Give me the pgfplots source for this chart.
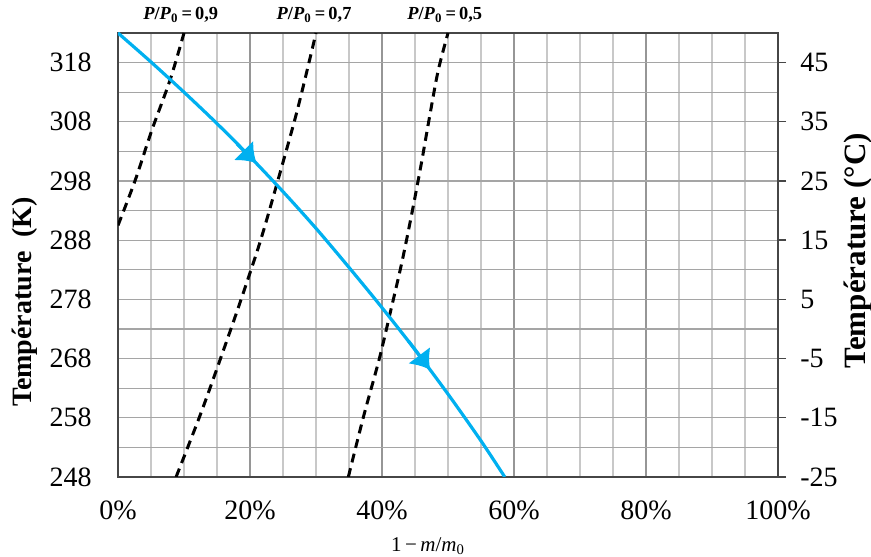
\documentclass[border=0pt]{standalone}
\usepackage{pgfplots}
\pgfplotsset{compat=1.18}
\usepackage{fontspec}
\setmainfont{Liberation Serif}
\usetikzlibrary{arrows.meta}
\definecolor{cblue}{RGB}{0,176,240}
\definecolor{gmaj}{RGB}{150,150,150}
\definecolor{gmin}{RGB}{200,200,200}
\definecolor{gh}{RGB}{165,165,165}
\definecolor{axcol}{RGB}{70,70,70}
\begin{document}
\begin{tikzpicture}
\begin{axis}[
  name=main,
  scale only axis, width=330pt, height=222pt,
  xmin=0, xmax=100, ymin=248, ymax=323,
  xtick={0,20,40,60,80,100},
  xticklabels={0\%,20\%,40\%,60\%,80\%,100\%},
  minor xtick={5,10,15,25,30,35,45,50,55,65,70,75,85,90,95},
  ytick={248,258,268,278,288,298,308,318},
  yticklabels={248,258,268,278,288,298,308,318},
  minor ytick={253,263,273,283,293,303,313,323},
  xtick pos=bottom, ytick pos=left,
  major tick length=0pt, minor tick length=0pt,
  grid=both,
  major x grid style={gmaj, line width=0.6pt},
  minor x grid style={gmin, line width=0.6pt},
  major y grid style={gh, line width=0.6pt},
  minor y grid style={gh, line width=0.6pt},
  axis line style={axcol, line width=0.7pt},
  /pgf/number format/assume math mode=true,
  xticklabel style={font=\fontsize{14}{16}\selectfont, anchor=center, inner sep=0pt, yshift=-16.5pt},
  yticklabel style={font=\fontsize{14}{16}\selectfont, anchor=east, inner sep=0pt, xshift=-13pt},
  clip mode=individual,
]
% P/P0 = 0.9
\addplot[black, line width=1.5pt, dash pattern=on 4.5pt off 3pt, smooth] coordinates {
  (0,290.5) (2.6,298.1) (5.1,306.5) (7.9,315.1) (10.0,323)
};
% P/P0 = 0.7
\addplot[black, line width=1.5pt, dash pattern=on 4.5pt off 3pt, smooth] coordinates {
  (8.8,248) (12.4,258.3) (15.5,267.9) (18.5,277.5) (21.5,287.6) (24.1,297.6) (27.2,310.1) (30.0,323)
};
% P/P0 = 0.5
\addplot[black, line width=1.5pt, dash pattern=on 4.5pt off 3pt, smooth] coordinates {
  (34.9,248) (37.2,258.2) (39.6,268.0) (41.3,276.0) (43.0,284.2) (44.5,292.4) (45.9,300.6) (47.2,308.8) (48.5,316.6) (50.0,323)
};
% trajectory
\addplot[cblue, line width=1.6pt, smooth] coordinates {
  (0,323) (5,318.1) (10,313.0) (15,307.7) (20,302.1) (25,296.2) (30,290.0) (35,283.4) (40,276.6) (45,269.5) (50,262.0) (55,254.1) (58.6,248)
};
\addplot[cblue, line width=1.6pt, -{Latex[length=9pt,width=14pt]}] coordinates {(18,304.3) (21.0,301.0)};
\addplot[cblue, line width=1.6pt, -{Latex[length=9pt,width=14pt]}] coordinates {(44,271.0) (47.3,266.1)};
\node[font=\fontsize{9.2}{11}\selectfont\bfseries, anchor=center] at (axis cs:9.5,323) [yshift=9pt] {\textit{P}/\textit{P}\textsubscript{0}\,=\,0,9};
\node[font=\fontsize{9.2}{11}\selectfont\bfseries, anchor=center] at (axis cs:29.7,323) [yshift=9pt] {\textit{P}/\textit{P}\textsubscript{0}\,=\,0,7};
\node[font=\fontsize{9.2}{11}\selectfont\bfseries, anchor=center] at (axis cs:49.5,323) [yshift=9pt] {\textit{P}/\textit{P}\textsubscript{0}\,=\,0,5};
\end{axis}
\begin{axis}[
  scale only axis, width=330pt, height=222pt,
  xmin=0, xmax=100, ymin=-25, ymax=50,
  axis x line*=bottom, xtick=\empty,
  x axis line style={draw=none},
  axis y line*=right,
  ytick={-25,-15,-5,5,15,25,35,45},
  yticklabels={-25,-15,-5,5,15,25,35,45},
  tick align=outside, major tick length=4pt,
  tick style={axcol, line width=0.7pt},
  y axis line style={axcol, line width=0.7pt},
  yticklabel style={font=\fontsize{14}{16}\selectfont, anchor=west, inner sep=0pt, xshift=7pt},
]
\end{axis}
\node[rotate=90, font=\fontsize{14}{16}\selectfont\bfseries] at ([shift={(-46.5pt,87.5pt)}]main.south west) {Température~~(K)};
\node[rotate=90, font=\fontsize{15.5}{17}\selectfont\bfseries] at ([shift={(40pt,113pt)}]main.south east) {Température (°C)};
\node[font=\fontsize{10.5}{12}\selectfont] at ([shift={(155pt,-34.5pt)}]main.south west) {1\,−\,\textit{m}/\textit{m}\textsubscript{0}};
\pgfresetboundingbox
\path ([shift={(-59pt,-40pt)}]main.south west) rectangle ([shift={(46.5pt,16.5pt)}]main.north east);
\end{tikzpicture}
\end{document}
